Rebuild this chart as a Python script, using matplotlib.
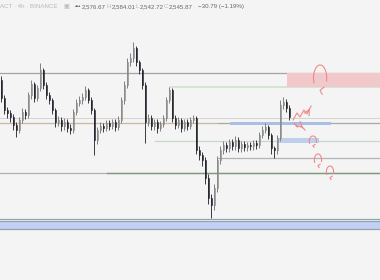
"""Recreate the 4h candle chart with drawn levels."""
import matplotlib
matplotlib.use("Agg")
import matplotlib.pyplot as plt
from matplotlib.patches import Rectangle, Arc

# candles (bar index -> price), open of each bar = previous close
first_open = 2580
closes = [2562, 2550, 2547, 2543, 2535, 2530, 2540, 2548, 2545, 2565,
          2576, 2562, 2572, 2590, 2575, 2565, 2560, 2550, 2538, 2540,
          2534, 2538, 2532, 2530, 2548, 2557, 2560, 2563, 2570, 2560,
          2550, 2520, 2530, 2534, 2532, 2537, 2534, 2538, 2533, 2540,
          2560, 2575, 2598, 2602, 2612, 2598, 2590, 2575, 2538, 2542,
          2534, 2538, 2532, 2536, 2542, 2560, 2570, 2542, 2535, 2540,
          2532, 2538, 2534, 2540, 2542, 2510, 2505, 2500, 2482, 2462,
          2455, 2472, 2500, 2510, 2515, 2512, 2518, 2514, 2520, 2512,
          2516, 2513, 2515, 2514, 2517, 2515, 2525, 2530, 2533, 2525,
          2512, 2510, 2522, 2555, 2558, 2552, 2543]
highs = [2584, 2565, 2553, 2550, 2546, 2538, 2543, 2552, 2551, 2568,
         2580, 2578, 2575, 2597, 2592, 2578, 2568, 2562, 2552, 2544,
         2543, 2542, 2541, 2536, 2551, 2561, 2564, 2567, 2574, 2572,
         2563, 2552, 2533, 2538, 2537, 2540, 2540, 2541, 2541, 2544,
         2563, 2579, 2602, 2607, 2618, 2614, 2600, 2592, 2578, 2546,
         2545, 2541, 2541, 2539, 2545, 2563, 2573, 2572, 2545, 2543,
         2542, 2541, 2541, 2543, 2545, 2544, 2514, 2508, 2503, 2486,
         2466, 2476, 2504, 2514, 2519, 2518, 2521, 2521, 2524, 2523,
         2519, 2519, 2518, 2518, 2520, 2520, 2528, 2534, 2537, 2535,
         2527, 2514, 2525, 2560, 2563, 2561, 2555]
lows = [2558, 2546, 2542, 2538, 2530, 2523, 2527, 2537, 2541, 2542,
        2561, 2558, 2559, 2569, 2571, 2561, 2556, 2546, 2533, 2534,
        2529, 2530, 2528, 2526, 2527, 2545, 2554, 2556, 2560, 2557,
        2546, 2505, 2516, 2527, 2528, 2529, 2530, 2531, 2529, 2530,
        2537, 2556, 2572, 2594, 2598, 2594, 2586, 2571, 2517, 2534,
        2530, 2530, 2527, 2529, 2533, 2539, 2557, 2538, 2531, 2532,
        2528, 2529, 2530, 2531, 2537, 2506, 2500, 2494, 2476, 2456,
        2442, 2450, 2468, 2496, 2506, 2508, 2508, 2510, 2510, 2508,
        2508, 2509, 2509, 2510, 2510, 2511, 2512, 2522, 2527, 2521,
        2506, 2502, 2506, 2519, 2551, 2548, 2540]

# drawn horizontal levels: (price, start bar, colour, width)
levels = [(2587, -1, "#a4a4a4", 0.9),
          (2573, 56.2, "#cfe3cf", 1.2),
          (2542, -1, "#d4d4d4", 0.7),
          (2537.5, -1, "#c9b9a0", 0.9),
          (2537, 72.2, "#a9a9a9", 0.8),
          (2519, 51.2, "#c9d6c9", 0.9),
          (2502, 72.2, "#b4b4b4", 0.9),
          (2487.5, -1, "#b0b0b0", 0.9),
          (2487.5, 35.2, "#7f9a7f", 1.0)]
# zones: (bar start, bar end, price low, price high, colour)
zones = [(95.2, 130, 2573, 2587, "#f2c9cb"),
         (76.2, 109.8, 2535, 2538, "#a9bfe3"),
         (91.8, 105.8, 2517, 2522, "#bfd0ee"),
         (-1, 130, 2431, 2439, "#c4cff4")]
band_lines = [2441, 2439, 2431]

# red hand drawings (bar, price)
wave = [(97.2, 2540), (98.5, 2547), (99.5, 2543), (100.8, 2550),
        (101.8, 2546), (103.2, 2554)]
hook = [(97.5, 2537), (98.5, 2533), (99.8, 2534), (101.2, 2530)]
loops = [(106.2, 2582, 2.2, 13), (103.8, 2519, 1.2, 5),
         (105.5, 2500, 1.2, 6), (109.5, 2488, 1.2, 6)]

# header: (x as figure fraction, text, colour)
header = [(0.0, "ACT · 4h · BINANCE", "#b8b8b8"),
          (0.166, "▣", "#b8b8b8"),
          (0.196, "•••", "#555555"),
          (0.216, "2,576.67", "#666666"),
          (0.280, "H", "#b8b8b8"), (0.293, "2,584.01", "#666666"),
          (0.357, "L", "#b8b8b8"), (0.368, "2,542.72", "#666666"),
          (0.432, "C", "#b8b8b8"), (0.445, "2,545.87", "#666666"),
          (0.520, "−30.79 (−1.19%)", "#666666")]

bg = "#f4f4f4"
fig = plt.figure(figsize=(3.8, 2.8), dpi=100, facecolor=bg)
ax = fig.add_axes([0, 0, 1, 1], facecolor=bg)
ax.set_xlim(-0.5, 126.17)
ax.set_ylim(2380, 2660)
ax.axis("off")

for price, x0, col, lw in levels:
    ax.plot([x0, 130], [price, price], color=col, lw=lw, zorder=1)
for x0, x1, lo, hi, col in zones:
    ax.add_patch(Rectangle((x0, lo), x1 - x0, hi - lo, facecolor=col,
                           edgecolor="none", zorder=1.5))
for p in band_lines:
    ax.plot([-1, 130], [p, p], color="#8fa5b0", lw=0.9, zorder=1.6)

opens = [first_open] + closes[:-1]
for i, (o, h, l, c) in enumerate(zip(opens, highs, lows, closes)):
    up = c >= o
    ax.vlines(i, l, h, color="#808080" if up else "#3a3a44", lw=0.7, zorder=3)
    ax.add_patch(Rectangle((i - 0.33, min(o, c)), 0.66, max(abs(c - o), 0.8),
                           facecolor="#c4c4c4" if up else "#22232b",
                           edgecolor="#7a7a7a" if up else "#22232b",
                           lw=0.4, zorder=4))

red = "#ee8a8a"
wx, wy = zip(*wave)
ax.plot(wx, wy, color=red, lw=0.8, zorder=5)
ax.annotate("", xy=wave[-1], xytext=wave[-2],
            arrowprops=dict(arrowstyle="->", color=red, lw=0.8))
hx, hy = zip(*hook)
ax.plot(hx, hy, color=red, lw=0.8, zorder=5)
ax.annotate("", xy=hook[-1], xytext=hook[-2],
            arrowprops=dict(arrowstyle="->", color=red, lw=0.8))
for cx, cy, w, h in loops:
    ax.add_patch(Arc((cx, cy), w * 2, h * 2, theta1=-60, theta2=250,
                     color=red, lw=0.8, zorder=5))
    ax.plot([cx + w * 0.3, cx, cx + w * 0.6],
            [cy - h * 1.25, cy - h * 0.95, cy - h * 0.7],
            color=red, lw=0.8, zorder=5)

for x, s, col in header:
    fig.text(x, 1 - 6.5 / 280, s, fontsize=4.4, color=col, va="center",
             ha="left", family=["Liberation Sans", "DejaVu Sans"])

fig.savefig("out.png", dpi=100, facecolor=bg)
